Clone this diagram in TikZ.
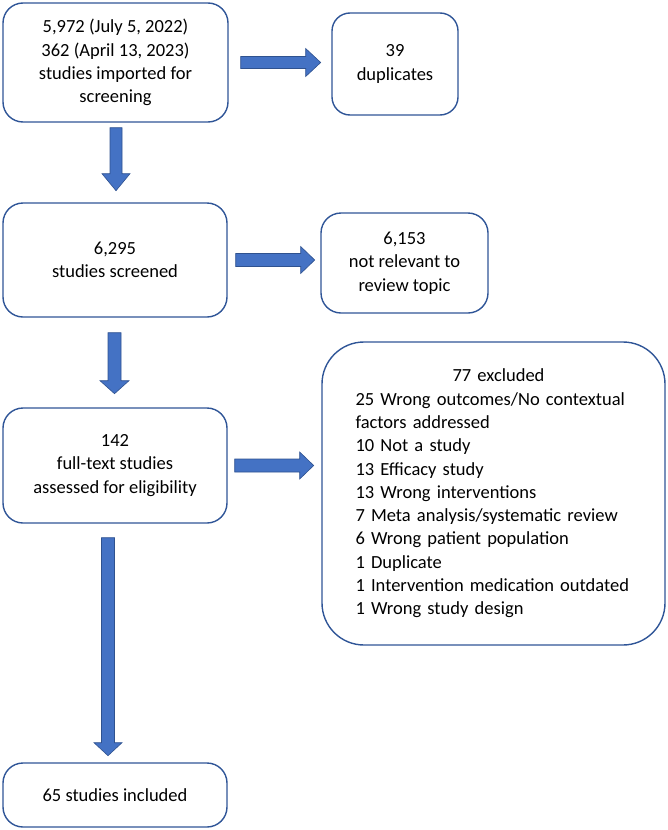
\documentclass[tikz,border=0pt]{standalone}
\usepackage{fontspec}
\setmainfont{Carlito}
\usetikzlibrary{calc}
\definecolor{boxedge}{HTML}{2F5597}
\definecolor{arrowblue}{HTML}{4472C4}
\definecolor{arrowedge}{HTML}{2F528F}
\begin{document}
\begin{tikzpicture}[x=1pt,y=-1pt,
  box/.style={draw=boxedge, line width=1.4pt, rounded corners=20pt, align=center,
    inner sep=0pt, font=\fontsize{18.5}{23.3}\selectfont, text=black},
  barrow/.style={fill=arrowblue, draw=arrowedge, line width=0.6pt, line join=miter}]
\useasboundingbox (0,0) rectangle (668,830);

\node[box, minimum width=225pt, minimum height=119pt] (b1) at (115.5,62.5)
  {5,972 (July 5, 2022)\\362 (April 13, 2023)\\studies imported for\\screening};
\node[box, minimum width=126pt, minimum height=102pt, rounded corners=18pt] (dup) at (395,64)
  {39\\duplicates};
\node[box, minimum width=224pt, minimum height=114pt] (b2) at (115,260)
  {6,295\\studies screened};
\node[box, minimum width=167pt, minimum height=100pt] (nr) at (404.5,263)
  {6,153\\not relevant to\\review topic};
\node[box, minimum width=224pt, minimum height=115pt] (b3) at (115,465.5)
  {142\\full-text studies\\assessed for eligibility};
\node[box, minimum width=343pt, minimum height=303pt, rounded corners=42pt,
  text width=276pt, align=left] (ex) at (493.5,493.5)
  {\centering\hspace*{10pt}77 excluded\par\raggedright
   25 Wrong outcomes/No contextual factors addressed\\
   10 Not a study\\
   13 Efficacy study\\
   13 Wrong interventions\\
   7 Meta analysis/systematic review\\
   6 Wrong patient population\\
   1 Duplicate\\
   1 Intervention medication outdated\\
   1 Wrong study design};
\node[box, minimum width=224pt, minimum height=64pt] (b4) at (115,795)
  {65 studies included};

% horizontal block arrows
\draw[barrow] ($(b1.east)+(12,-6)$) -- ++(65,0) -- ++(0,-8) -- ++(15,14)
  -- ++(-15,14) -- ++(0,-8) -- ++(-65,0) -- cycle;
\draw[barrow] ($(b2.east)+(8,-6.5)$) -- ++(65,0) -- ++(0,-7) -- ++(14,13.5)
  -- ++(-14,13.5) -- ++(0,-7) -- ++(-65,0) -- cycle;
\draw[barrow] ($(b3.east)+(7,-6.5)$) -- ++(65,0) -- ++(0,-7) -- ++(14,13.5)
  -- ++(-14,13.5) -- ++(0,-7) -- ++(-65,0) -- cycle;

% vertical block arrows
\draw[barrow] ($(b1.south)+(-5.5,5)$) -- ++(0,46) -- ++(-8,0) -- ++(14,17)
  -- ++(14,-17) -- ++(-8,0) -- ++(0,-46) -- cycle;
\draw[barrow] ($(b2.south)+(-7,15)$) -- ++(0,48) -- ++(-8,0) -- ++(14.5,13)
  -- ++(14.5,-13) -- ++(-8,0) -- ++(0,-48) -- cycle;
\draw[barrow] ($(b3.south)+(-13.5,14)$) -- ++(0,205) -- ++(-7.5,0) -- ++(14,13)
  -- ++(14,-13) -- ++(-7.5,0) -- ++(0,-205) -- cycle;
\end{tikzpicture}
\end{document}
